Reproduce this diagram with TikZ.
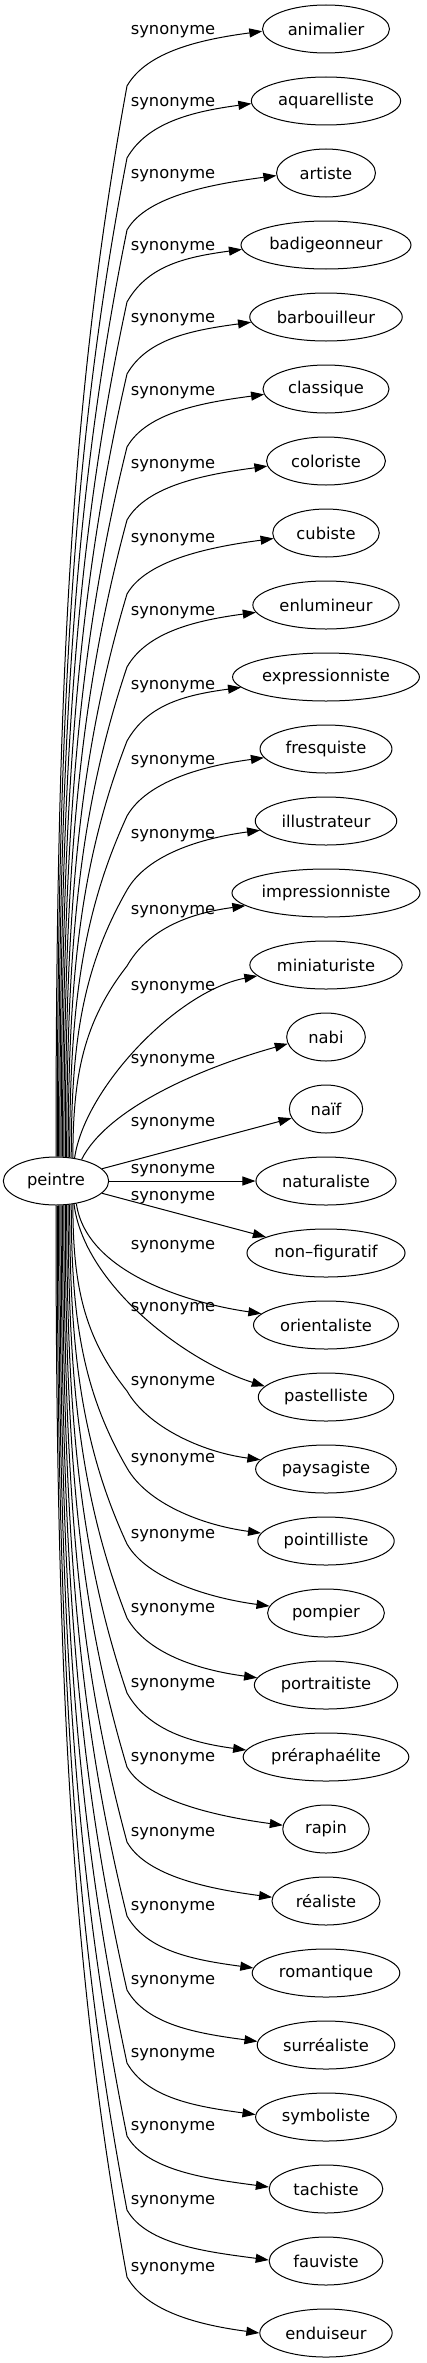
\documentclass[tikz,border=0pt]{standalone}
\usepackage{fontspec}
\setmainfont{DejaVu Sans}
\usetikzlibrary{arrows.meta, shapes.geometric, calc}

\newcommand\wordfont{\fontsize{16.3pt}{19pt}\selectfont}
% y of each "synonyme" label, row by row
\newcommand\labely{{32,104,176,248,320,393,466,540,613,687,762,836,912,988,
  1061,1124,1171,1198,1247,1309,1383,1460,1536,1610,1685,1759,1834,1908,
  1982,2055,2128,2202,2269}}

\begin{document}
\begin{tikzpicture}[
  x=1pt, y=-1pt,
  word/.style={ellipse, draw, line width=1pt, inner xsep=0pt,
    inner ysep=2pt, minimum height=48pt, font=\wordfont},
  probe/.style={inner sep=0pt, font=\wordfont},
  lbl/.style={font=\wordfont, inner sep=0pt},
  arr/.style={-{Triangle[length=13pt, width=9pt]}, line width=1pt}
]
  \useasboundingbox (0,0) rectangle (427,2363);

  % Source word
  \node[probe] (m) at (56,1181) {\phantom{peintre}};
  \path let \p1 = ($(m.east)-(m.west)$) in
    node[word, minimum width={1.17*\x1+37pt}] (peintre) at (56,1181) {peintre};

  % Synonyms, one per row
  \foreach \w [count=\i from 0] in {animalier, aquarelliste, artiste,
      badigeonneur, barbouilleur, classique, coloriste, cubiste,
      enlumineur, expressionniste, fresquiste, illustrateur,
      impressionniste, miniaturiste, nabi, naïf, naturaliste,
      non–figuratif, orientaliste, pastelliste, paysagiste,
      pointilliste, pompier, portraitiste, préraphaélite, rapin,
      réaliste, romantique, surréaliste, symboliste, tachiste,
      fauviste, enduiseur} {
    \node[probe] (m\i) at (326,{29+72*\i}) {\phantom{\w}};
    \path let \p1 = ($(m\i.east)-(m\i.west)$) in
      node[word, minimum width={1.17*\x1+37pt}] (syn\i)
      at (326,{29+72*\i}) {\w};
  }

  % Edge labels
  \foreach \i in {0,...,32} {
    \pgfmathsetmacro\ly{\labely[\i]}
    \node[lbl] (lab\i) at (173,\ly) {synonyme};
  }

  % Upper fan: up the bundle, bend at the knee, into the word
  \foreach \i in {0,...,12} {
    \pgfmathsetmacro\ky{\labely[\i]+54}
    \pgfmathsetmacro\kh{1158-\ky}
    \pgfmathsetmacro\kdx{0.8*(71-1.4*\i)}
    \pgfmathtruncatemacro\sang{90-3*\i}
    \pgfmathtruncatemacro\tang{182+0.6*\i}
    \coordinate (knee\i) at (127,\ky);
    \draw[arr] (peintre.\sang)
      .. controls +(0,{-0.43*\kh}) and +({-\kdx},{0.29*\kh}) .. (knee\i)
      .. controls +(20,-35) and +(-60,8) .. (syn\i.\tang);
  }

  % Near rows
  \draw[arr] (peintre.51) .. controls +(10,-70) and +(-80,15) .. (syn13.189);
  \draw[arr] (peintre.40) .. controls +(25,-50) and +(-90,25) .. (syn14.190);
  \draw[arr] (peintre) -- (syn15);
  \draw[arr] (peintre) -- (syn16);
  \draw[arr] (peintre) -- (syn17);
  \draw[arr] (peintre.-48) .. controls +(10,70) and +(-70,-10) .. (syn18.170);
  \draw[arr] (peintre.-52) .. controls +(10,80) and +(-80,-25) .. (syn19.170);

  % Lower fan
  \foreach \i in {20,...,32} {
    \pgfmathsetmacro\ky{\labely[\i]+8}
    \pgfmathsetmacro\kh{\ky-1204}
    \pgfmathsetmacro\kdx{0.8*(71-1.4*(32-\i))}
    \pgfmathtruncatemacro\sang{-90+3*(32-\i)}
    \pgfmathtruncatemacro\tang{180-0.6*(32-\i)}
    \coordinate (knee\i) at (127,\ky);
    \draw[arr] (peintre.\sang)
      .. controls +(0,{0.43*\kh}) and +({-\kdx},{-0.29*\kh}) .. (knee\i)
      .. controls +(20,35) and +(-60,-8) .. (syn\i.\tang);
  }
\end{tikzpicture}
\end{document}
